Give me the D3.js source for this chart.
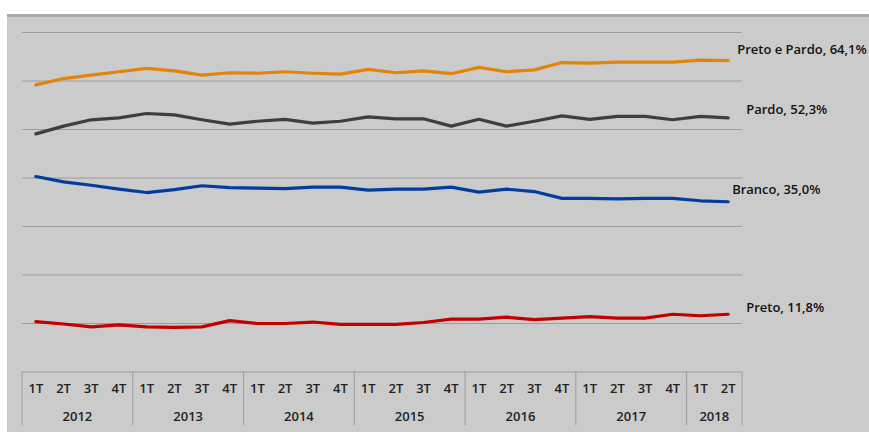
<!DOCTYPE html>
<html>
<head>
<meta charset="utf-8">
<script src="https://cdn.jsdelivr.net/npm/d3@7"></script>
<style>
  body { margin: 0; background: #fff; }
  svg { display: block; font-family: "Open Sans", sans-serif; }
</style>
</head>
<body>
<div id="chart"></div>
<script>
var years = ["2012", "2013", "2014", "2015", "2016", "2017", "2018"];
var quartersPerYear = [4, 4, 4, 4, 4, 4, 2];
var quarterNames = ["1T", "2T", "3T", "4T"];
var yTicks = [0, 10, 20, 30, 40, 50, 60, 70];

var pretoPardo = [59.1, 60.4, 61.1, 61.8, 62.5, 62.0, 61.1, 61.6, 61.5, 61.8, 61.5, 61.3, 62.3,
                  61.6, 62.0, 61.4, 62.7, 61.8, 62.2, 63.7, 63.6, 63.8, 63.8, 63.8, 64.2, 64.1];
var pardo      = [49.0, 50.6, 51.9, 52.3, 53.2, 52.9, 51.9, 51.0, 51.6, 52.0, 51.2, 51.6, 52.5,
                  52.1, 52.1, 50.6, 52.0, 50.6, 51.6, 52.7, 52.0, 52.6, 52.6, 51.9, 52.6, 52.3];
var branco     = [40.2, 39.1, 38.4, 37.6, 36.9, 37.5, 38.3, 37.9, 37.8, 37.7, 38.0, 38.0, 37.4,
                  37.6, 37.6, 38.0, 37.0, 37.6, 37.1, 35.7, 35.7, 35.6, 35.7, 35.7, 35.2, 35.0];
var preto      = [10.3, 9.8, 9.2, 9.6, 9.2, 9.1, 9.2, 10.5, 9.9, 9.9, 10.2, 9.7, 9.7,
                  9.7, 10.1, 10.8, 10.8, 11.2, 10.7, 11.0, 11.3, 11.0, 11.0, 11.8, 11.5, 11.8];

var seriesNames = ["Preto e Pardo", "Pardo", "Branco", "Preto"];
var endLabels = ["Preto e Pardo, 64,1%", "Pardo, 52,3%", "Branco, 35,0%", "Preto, 11,8%"];

var W = 869, H = 432;
var plotL = 22, plotR = 742, plotT = 32, plotB = 371.5;

// flat list of quarters
var quarters = [];
years.forEach(function(yr, i) {
  for (var q = 0; q < quartersPerYear[i]; q++) {
    quarters.push({ key: yr + "-" + quarterNames[q], year: yr, q: quarterNames[q] });
  }
});

var svg = d3.select("#chart").append("svg")
    .attr("width", W)
    .attr("height", H);

// background
svg.append("rect")
    .attr("x", 7).attr("y", 14)
    .attr("width", W - 7).attr("height", H - 14)
    .attr("fill", "#cbcbcb");
svg.append("line")
    .attr("x1", 7).attr("x2", W)
    .attr("y1", 15.5).attr("y2", 15.5)
    .attr("stroke", "#a9a9a9").attr("stroke-width", 3);

var x = d3.scaleBand()
    .domain(quarters.map(function(d) { return d.key; }))
    .range([plotL, plotR])
    .padding(0);

var y = d3.scaleLinear()
    .domain([0, 70])
    .range([plotB, plotT]);

// gridlines
var grid = svg.append("g")
    .attr("transform", "translate(" + plotL + ",0)")
    .call(d3.axisLeft(y).tickValues(yTicks).tickSize(-(plotR - plotL)).tickFormat(""));
grid.select(".domain").remove();
grid.selectAll(".tick line").attr("stroke", "#9c9c9c").attr("stroke-width", 1);

// quarter labels
var xAxis = svg.append("g")
    .attr("transform", "translate(0," + plotB + ")")
    .call(d3.axisBottom(x).tickSize(0).tickFormat(function(k) { return k.split("-")[1]; }));
xAxis.select(".domain").remove();
xAxis.selectAll("text")
    .attr("y", 12)
    .attr("font-family", "Open Sans, sans-serif")
    .attr("font-size", 13)
    .attr("font-weight", 600)
    .attr("fill", "#222");

// year separators and labels
var boundaries = [plotL];
var idx = 0;
years.forEach(function(yr, i) {
  idx += quartersPerYear[i];
  boundaries.push(idx < quarters.length ? x(quarters[idx].key) : plotR);
});

svg.selectAll(".sep")
    .data(boundaries)
    .enter().append("line")
    .attr("class", "sep")
    .attr("x1", function(d) { return d; })
    .attr("x2", function(d) { return d; })
    .attr("y1", plotB)
    .attr("y2", 425)
    .attr("stroke", "#9c9c9c");

svg.selectAll(".year")
    .data(years)
    .enter().append("text")
    .attr("class", "year")
    .attr("x", function(d, i) { return (boundaries[i] + boundaries[i + 1]) / 2; })
    .attr("y", 420.5)
    .attr("text-anchor", "middle")
    .attr("font-size", 13)
    .attr("font-weight", 600)
    .attr("fill", "#222")
    .text(function(d) { return d; });

// lines
var allSeries = [pretoPardo, pardo, branco, preto];
var colors = ["#e0850a", "#3e3e3e", "#033c9c", "#c20000"];
var labelOffsets = [[9, -11], [18, -8], [4, -12], [18, -7]];

var line = d3.line()
    .x(function(d, i) { return x(quarters[i].key) + x.bandwidth() / 2; })
    .y(function(d) { return y(d); });

svg.selectAll(".series")
    .data(allSeries)
    .enter().append("path")
    .attr("class", "series")
    .attr("d", line)
    .attr("fill", "none")
    .attr("stroke", function(d, i) { return colors[i]; })
    .attr("stroke-width", 3.2)
    .attr("stroke-linejoin", "round")
    .attr("stroke-linecap", "round");

var lastKey = quarters[quarters.length - 1].key;
svg.selectAll(".endlabel")
    .data(allSeries)
    .enter().append("text")
    .attr("class", "endlabel")
    .attr("x", function(d, i) { return x(lastKey) + x.bandwidth() / 2 + labelOffsets[i][0]; })
    .attr("y", function(d, i) { return y(d[d.length - 1]) + labelOffsets[i][1]; })
    .attr("dy", "0.35em")
    .attr("font-size", 13)
    .attr("font-weight", 600)
    .attr("fill", "#111")
    .text(function(d, i) { return endLabels[i]; });
</script>
</body>
</html>
